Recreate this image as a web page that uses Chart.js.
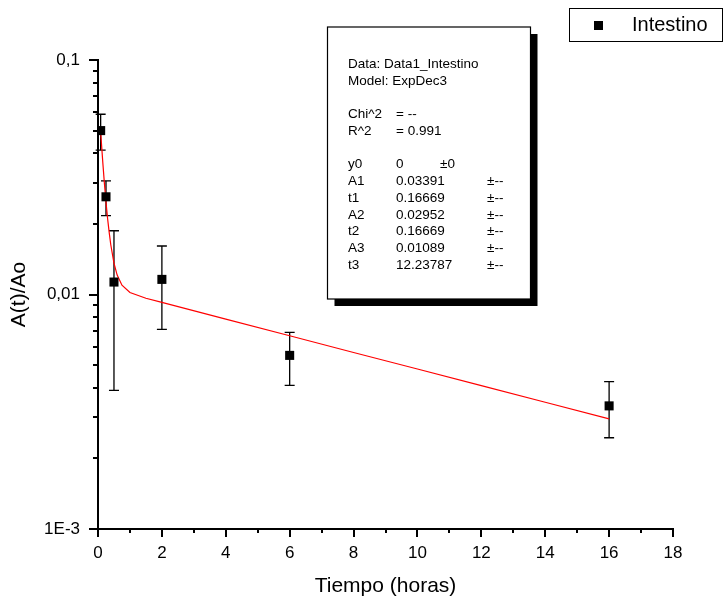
<!DOCTYPE html>
<html>
<head>
<meta charset="utf-8">
<script src="https://cdn.jsdelivr.net/npm/chart.js@4/dist/chart.umd.min.js"></script>
<style>
  body { margin: 0; background: #fff; }
  canvas { display: block; }
</style>
</head>
<body>
<canvas id="decayChart" width="724" height="603"></canvas>
<script>
// measured points (time in hours, A(t)/Ao) with their error bars
var times = [0.083, 0.25, 0.5, 2, 6, 16];
var ratios = [0.050, 0.0261, 0.0113, 0.0116, 0.0055, 0.00335];
var errors = [0.0087, 0.0044, 0.0074, 0.0045, 0.0014, 0.0009];

// red fit curve
var fitTimes = [0.083, 0.15, 0.2, 0.25, 0.3, 0.35, 0.4, 0.5, 0.6, 0.75, 1, 1.5, 2, 4, 6, 8, 10, 12, 14, 16];
var fitRatios = [0.0493, 0.0366, 0.0298, 0.0248, 0.0211, 0.0184, 0.0163, 0.0136, 0.0121, 0.01095, 0.0102, 0.00964, 0.00925, 0.00785, 0.00667, 0.00566, 0.00481, 0.00409, 0.00347, 0.00295];

var xTicks = [0, 2, 4, 6, 8, 10, 12, 14, 16, 18];
var yTicks = [0.001, 0.01, 0.1];
var yTickLabels = ['1E-3', '0,01', '0,1'];

var fitInfo = [
  ['Data: Data1_Intestino'],
  ['Model: ExpDec3'],
  [],
  ['Chi^2', '= --'],
  ['R^2', '= 0.991'],
  [],
  ['y0', '0', '±0', ''],
  ['A1', '0.03391', '', '±--'],
  ['t1', '0.16669', '', '±--'],
  ['A2', '0.02952', '', '±--'],
  ['t2', '0.16669', '', '±--'],
  ['A3', '0.01089', '', '±--'],
  ['t3', '12.23787', '', '±--']
];

var FONT = 'Arial, "Liberation Sans", sans-serif';

function toPoints(xs, ys) {
  return xs.map(function (x, i) { return { x: x, y: ys[i] }; });
}

var decorations = {
  id: 'decorations',
  beforeDatasetsDraw: function (chart) {
    var ctx = chart.ctx;
    var xs = chart.scales.x, ys = chart.scales.y;
    ctx.save();
    ctx.strokeStyle = '#000';
    ctx.lineWidth = 1.3;
    times.forEach(function (t, i) {
      var px = xs.getPixelForValue(t);
      var top = ys.getPixelForValue(ratios[i] + errors[i]);
      var bot = ys.getPixelForValue(ratios[i] - errors[i]);
      ctx.beginPath();
      ctx.moveTo(px, top); ctx.lineTo(px, bot);
      ctx.moveTo(px - 5, top); ctx.lineTo(px + 5, top);
      ctx.moveTo(px - 5, bot); ctx.lineTo(px + 5, bot);
      ctx.stroke();
    });
    ctx.restore();
  },
  afterDraw: function (chart) {
    var ctx = chart.ctx;
    var xs = chart.scales.x, ys = chart.scales.y;
    var area = chart.chartArea;
    ctx.save();
    ctx.strokeStyle = '#000';
    ctx.lineWidth = 2;

    // x ticks, minor ones halfway between labels
    ctx.beginPath();
    for (var v = xs.min; v <= xs.max; v += 1) {
      var px = Math.round(xs.getPixelForValue(v));
      var len = (v % 2 === 0) ? 8 : 4;
      ctx.moveTo(px, area.bottom); ctx.lineTo(px, area.bottom + len);
    }
    // y ticks, 1..9 per decade
    for (var d = -3; d <= -1; d++) {
      for (var k = 1; k <= 9; k++) {
        var val = k * Math.pow(10, d);
        if (val > ys.max * 1.0001) continue;
        var py = Math.round(ys.getPixelForValue(val));
        var l = (k === 1) ? 9 : 5;
        ctx.moveTo(area.left, py); ctx.lineTo(area.left - l, py);
      }
    }
    ctx.stroke();

    // fit parameter box with drop shadow
    var bx = 327.5, by = 27, bw = 203, bh = 272;
    ctx.fillStyle = '#000';
    ctx.fillRect(bx + 7, by + 7, bw, bh);
    ctx.fillStyle = '#fff';
    ctx.fillRect(bx, by, bw, bh);
    ctx.lineWidth = 1.2;
    ctx.strokeRect(bx, by, bw, bh);

    ctx.fillStyle = '#000';
    ctx.font = '13.5px ' + FONT;
    ctx.textBaseline = 'middle';
    ctx.textAlign = 'left';
    var cols = [348, 396, 440, 487];
    fitInfo.forEach(function (row, i) {
      var y = 64.5 + i * 16.7;
      row.forEach(function (txt, c) {
        if (txt) ctx.fillText(txt, cols[c], y);
      });
    });

    // legend
    ctx.lineWidth = 1;
    ctx.strokeRect(569.5, 8.5, 153, 33);
    ctx.fillRect(594, 21, 9, 9);
    ctx.font = '20px ' + FONT;
    ctx.fillText(chart.data.datasets[0].label, 632, 25.5);
    ctx.restore();
  }
};

var ctx = document.getElementById('decayChart').getContext('2d');
var decayChart = new Chart(ctx, {
  type: 'scatter',
  data: {
    datasets: [{
      label: 'Intestino',
      data: toPoints(times, ratios),
      pointStyle: 'rect',
      pointRadius: 6.4,
      pointBorderWidth: 0,
      backgroundColor: '#000',
      borderColor: '#000',
      showLine: false
    }, {
      label: 'ExpDec3',
      data: toPoints(fitTimes, fitRatios),
      showLine: true,
      borderColor: '#ff0000',
      borderWidth: 1.2,
      pointRadius: 0,
      tension: 0
    }]
  },
  options: {
    responsive: false,
    animation: false,
    devicePixelRatio: 1,
    layout: { padding: { top: 60, right: 51, bottom: 0, left: 0 } },
    plugins: { legend: { display: false }, tooltip: { enabled: false } },
    scales: {
      x: {
        type: 'linear',
        min: 0,
        max: 18,
        afterFit: function (s) { s.height = 74; },
        afterBuildTicks: function (s) { s.ticks = xTicks.map(function (v) { return { value: v }; }); },
        grid: { display: false, drawTicks: false },
        border: { display: true, color: '#000', width: 2 },
        ticks: { autoSkip: false, maxRotation: 0, padding: 14, color: '#000', font: { family: FONT, size: 17 } },
        title: { display: true, text: 'Tiempo (horas)', color: '#000', font: { family: FONT, size: 21 }, padding: { top: 0, bottom: 4 } }
      },
      y: {
        type: 'logarithmic',
        min: 0.001,
        max: 0.1,
        afterFit: function (s) { s.width = 98; },
        afterBuildTicks: function (s) { s.ticks = yTicks.map(function (v) { return { value: v, major: true }; }); },
        grid: { display: false, drawTicks: false },
        border: { display: true, color: '#000', width: 2 },
        ticks: {
          autoSkip: false,
          padding: 18,
          color: '#000',
          font: { family: FONT, size: 17 },
          callback: function (value, index) { return yTickLabels[index]; }
        },
        title: { display: true, text: 'A(t)/Ao', color: '#000', font: { family: FONT, size: 21 }, padding: { top: 7, bottom: 0 } }
      }
    }
  },
  plugins: [decorations]
});
</script>
</body>
</html>
